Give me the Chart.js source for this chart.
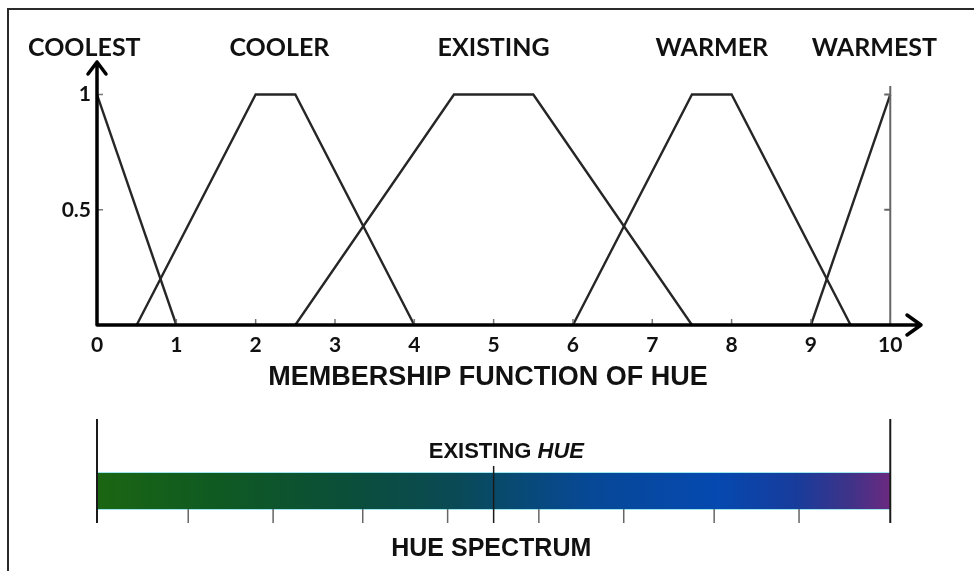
<!DOCTYPE html>
<html>
<head>
<meta charset="utf-8">
<script src="https://cdn.jsdelivr.net/npm/chart.js@4.4.1/dist/chart.umd.min.js"></script>
<style>
  html, body { margin: 0; padding: 0; background: #fff; overflow: hidden; }
  #frame { position: absolute; left: 7px; top: 8px; width: 1000px; height: 620px; border: 2px solid #2a2a2a; }
  #wrap { position: absolute; left: 0; top: 0; width: 974px; height: 571px; }
</style>
</head>
<body>
<div id="frame"></div>
<div id="wrap"><canvas id="hueChart" width="974" height="571"></canvas></div>
<script>
// fuzzy sets over the hue axis, [hue, membership]
const setNames = ['COOLEST', 'COOLER', 'EXISTING', 'WARMER', 'WARMEST'];
const coolest  = [[0, 1], [1, 0]];
const cooler   = [[0.5, 0], [2, 1], [2.5, 1], [4, 0]];
const existing = [[2.5, 0], [4.5, 1], [5.5, 1], [7.5, 0]];
const warmer   = [[6, 0], [7.5, 1], [8, 1], [9.5, 0]];
const warmest  = [[9, 0], [10, 1]];

const hueTicks = [0, 1, 2, 3, 4, 5, 6, 7, 8, 9, 10];
const membershipTicks = [0.5, 1];
const membershipLabels = ['0.5', '1'];

// spectrum strip below the chart
const existingHue = 5;
const spectrumMarks = [1.15, 2.22, 3.35, 4.42, 5.57, 6.64, 7.78, 8.85];

const xTitle = 'MEMBERSHIP FUNCTION OF HUE';
const spectrumTitle = 'HUE SPECTRUM';

const sets = [coolest, cooler, existing, warmer, warmest];
// where each set name sits along the hue axis
const nameAnchors = [-0.16, 2.3, 5, 7.75, 9.8];

const LATO = 'Lato, "Open Sans", sans-serif';
const ARIAL = '"Liberation Sans", Arial, sans-serif';

const decorPlugin = {
  id: 'decor',
  afterDatasetsDraw(chart) {
    const { ctx, scales: { x, y } } = chart;
    const x0 = x.getPixelForValue(0);
    const x10 = x.getPixelForValue(10);
    const y0 = y.getPixelForValue(0);
    ctx.save();

    // vertical guide at hue 10
    ctx.strokeStyle = '#666';
    ctx.lineWidth = 2;
    ctx.beginPath();
    ctx.moveTo(x10, 86); ctx.lineTo(x10, y0);
    membershipTicks.forEach(v => {
      const py = y.getPixelForValue(v);
      ctx.moveTo(x10 - 6, py); ctx.lineTo(x10, py);
    });
    ctx.stroke();

    // small inner ticks
    ctx.strokeStyle = '#777';
    ctx.lineWidth = 1.5;
    ctx.beginPath();
    hueTicks.slice(1).forEach(v => {
      const px = x.getPixelForValue(v);
      ctx.moveTo(px, y0); ctx.lineTo(px, y0 - 6);
    });
    membershipTicks.forEach(v => {
      const py = y.getPixelForValue(v);
      ctx.moveTo(x0, py); ctx.lineTo(x0 + 6, py);
    });
    ctx.stroke();

    // axes with arrow heads
    ctx.strokeStyle = '#000';
    ctx.lineWidth = 3.5;
    ctx.lineCap = 'round';
    ctx.lineJoin = 'round';
    const xEnd = x.right - 1;
    const yEnd = y.top + 2;
    ctx.beginPath();
    ctx.moveTo(x0, y0); ctx.lineTo(xEnd, y0);
    ctx.moveTo(x0, y0); ctx.lineTo(x0, yEnd);
    ctx.moveTo(xEnd - 14, y0 - 10); ctx.lineTo(xEnd, y0); ctx.lineTo(xEnd - 14, y0 + 10);
    ctx.moveTo(x0 - 9, yEnd + 12); ctx.lineTo(x0, yEnd); ctx.lineTo(x0 + 9, yEnd + 12);
    ctx.stroke();

    // set names
    ctx.fillStyle = '#111';
    ctx.textAlign = 'center';
    ctx.textBaseline = 'middle';
    ctx.font = '700 25px ' + LATO;
    setNames.forEach((n, i) => ctx.fillText(n, x.getPixelForValue(nameAnchors[i]), 48));

    // axis title
    ctx.font = '700 27px ' + ARIAL;
    ctx.fillText(xTitle, x.getPixelForValue(4.93), 378);

    // spectrum strip
    const top = 473, bot = 509;
    const g = ctx.createLinearGradient(x0, 0, x10, 0);
    g.addColorStop(0.00, '#1b6612');
    g.addColorStop(0.15, '#0f5a22');
    g.addColorStop(0.32, '#0b4e3a');
    g.addColorStop(0.45, '#0a4a55');
    g.addColorStop(0.52, '#084a70');
    g.addColorStop(0.62, '#074896');
    g.addColorStop(0.78, '#0549b0');
    g.addColorStop(0.88, '#173c9c');
    g.addColorStop(0.95, '#3f3388');
    g.addColorStop(1.00, '#6b2a80');
    ctx.fillStyle = g;
    ctx.fillRect(x0, top, x10 - x0, bot - top);
    ctx.strokeStyle = '#9fe6ee';
    ctx.lineWidth = 1;
    ctx.lineCap = 'butt';
    ctx.beginPath();
    ctx.moveTo(x0, top - 0.5); ctx.lineTo(x10, top - 0.5);
    ctx.moveTo(x0, bot + 0.5); ctx.lineTo(x10, bot + 0.5);
    ctx.stroke();

    ctx.strokeStyle = '#666';
    ctx.lineWidth = 1.5;
    ctx.beginPath();
    spectrumMarks.forEach(v => {
      const px = x.getPixelForValue(v);
      ctx.moveTo(px, bot); ctx.lineTo(px, 523);
    });
    ctx.stroke();

    ctx.strokeStyle = '#1a1a1a';
    ctx.lineWidth = 1.5;
    const ex = x.getPixelForValue(existingHue);
    ctx.beginPath();
    ctx.moveTo(ex, 466); ctx.lineTo(ex, 523);
    ctx.stroke();

    ctx.lineWidth = 2;
    ctx.beginPath();
    ctx.moveTo(x0, 419); ctx.lineTo(x0, 523);
    ctx.moveTo(x10, 419); ctx.lineTo(x10, 523);
    ctx.stroke();

    // strip labels
    ctx.fillStyle = '#111';
    ctx.textAlign = 'left';
    const a = 'EXISTING ';
    ctx.font = 'italic 700 22px ' + ARIAL;
    const bw = ctx.measureText('HUE').width;
    ctx.font = '700 22px ' + ARIAL;
    const aw = ctx.measureText(a).width;
    const startX = x.getPixelForValue(5.16) - (aw + bw) / 2;
    ctx.fillText(a, startX, 452);
    ctx.font = 'italic 700 22px ' + ARIAL;
    ctx.fillText('HUE', startX + aw, 452);

    ctx.textAlign = 'center';
    ctx.font = '700 25px ' + ARIAL;
    ctx.fillText(spectrumTitle, x.getPixelForValue(4.97), 549);

    ctx.restore();
  }
};

new Chart(document.getElementById('hueChart'), {
  type: 'line',
  data: {
    datasets: sets.map((pts, i) => ({
      label: setNames[i],
      data: pts.map(p => ({ x: p[0], y: p[1] })),
      borderColor: '#262626',
      borderWidth: 2.4,
      pointRadius: 0,
      tension: 0,
      fill: false
    }))
  },
  options: {
    responsive: false,
    animation: false,
    layout: { padding: { left: 0, top: 60, right: 52, bottom: 0 } },
    plugins: { legend: { display: false }, tooltip: { enabled: false } },
    scales: {
      x: {
        type: 'linear',
        min: 0,
        max: 10.4,
        afterBuildTicks: s => { s.ticks = hueTicks.map(v => ({ value: v })); },
        afterFit: s => { s.height = 246; },
        grid: { display: false, drawTicks: false },
        border: { display: false },
        ticks: {
          autoSkip: false,
          maxRotation: 0,
          padding: 8,
          color: '#111',
          font: { family: LATO, size: 21, weight: '700' }
        }
      },
      y: {
        min: 0,
        max: 1.15,
        afterBuildTicks: s => { s.ticks = membershipTicks.map(v => ({ value: v })); },
        afterFit: s => { s.width = 97; },
        grid: { display: false, drawTicks: false },
        border: { display: false },
        ticks: {
          padding: 6,
          color: '#111',
          font: { family: LATO, size: 21, weight: '700' },
          callback: v => membershipLabels[membershipTicks.indexOf(v)]
        }
      }
    }
  },
  plugins: [decorPlugin]
});
</script>
</body>
</html>
